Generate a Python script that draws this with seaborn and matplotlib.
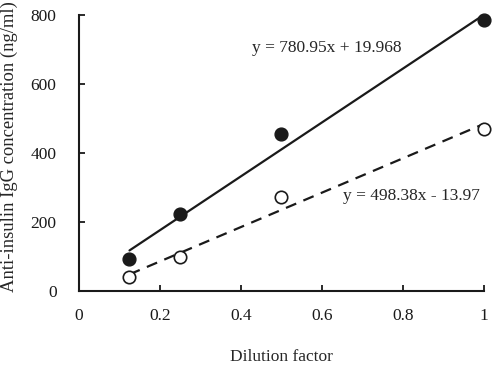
import matplotlib
matplotlib.use("Agg")
import matplotlib.pyplot as plt
import seaborn as sns
import pandas as pd
import numpy as np

# values
dilution = [0.125, 0.25, 0.5, 1.0]
filled_vals = [92, 222, 455, 785]
open_vals = [40, 99, 273, 471]

# fitted lines as printed on the chart
fit_filled = (780.95, 19.968)
fit_open = (498.38, -13.97)
eq_filled = "y = 780.95x + 19.968"
eq_open = "y = 498.38x - 13.97"

sns.set_style("ticks")
plt.rcParams['font.family'] = ['Liberation Serif', 'DejaVu Serif']
fontSize = 12.5

fig = plt.figure(figsize=(4.99, 3.71), dpi=100)
ax = fig.add_axes([0.158, 0.2156, 0.812, 0.744])

xfit = np.array([dilution[0], dilution[-1]])
lines = pd.DataFrame({
    'x': np.concatenate([xfit, xfit]),
    'y': np.concatenate([fit_filled[0] * xfit + fit_filled[1],
                         fit_open[0] * xfit + fit_open[1]]),
    'series': ['filled'] * 2 + ['open'] * 2,
})
sns.lineplot(data=lines[lines.series == 'filled'], x='x', y='y', color='#1a1a1a',
             lw=1.6, ax=ax, legend=False)
sns.lineplot(data=lines[lines.series == 'open'], x='x', y='y', color='#1a1a1a',
             lw=1.6, ax=ax, legend=False, dashes=False, linestyle=(0, (5, 3.5)))

sns.scatterplot(x=dilution, y=filled_vals, color='#1a1a1a', edgecolor='#1a1a1a',
                s=85, linewidth=1, ax=ax, zorder=3, clip_on=False)
sns.scatterplot(x=dilution, y=open_vals, color='white', edgecolor='#1a1a1a',
                s=80, linewidth=1.2, ax=ax, zorder=3, clip_on=False)

ax.text(0.427, 704, eq_filled, fontsize=fontSize, va='center', ha='left')
ax.text(0.652, 275, eq_open, fontsize=fontSize, va='center', ha='left')

ax.set_xlim(0, 1)
ax.set_ylim(0, 800)
ax.set_xticks([0, 0.2, 0.4, 0.6, 0.8, 1])
ax.set_xticklabels(['0', '0.2', '0.4', '0.6', '0.8', '1'])
ax.set_yticks([0, 200, 400, 600, 800])
ax.tick_params(direction='in', length=4, width=1.3, labelsize=fontSize,
               colors='#1a1a1a', pad=12)
ax.tick_params(axis='y', pad=16)
for s in ['top', 'right']:
    ax.spines[s].set_visible(False)
for s in ['left', 'bottom']:
    ax.spines[s].set_linewidth(1.5)
    ax.spines[s].set_color('#1a1a1a')

ax.set_xlabel('Dilution factor', fontsize=fontSize, labelpad=18)
ax.set_ylabel('Anti-insulin IgG concentration (ng/ml)', fontsize=13.4)
ax.yaxis.set_label_coords(-0.151, 0.525)

fig.savefig('out.png', dpi=100)
